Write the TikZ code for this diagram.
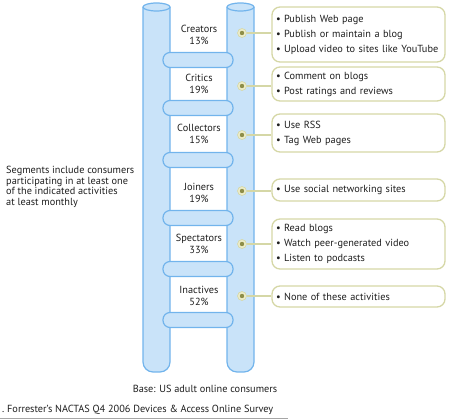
\documentclass[tikz,border=0pt]{standalone}
\usepackage{fontspec}
\setmainfont{PT Sans}
\definecolor{polefill}{HTML}{C9E3F9}
\definecolor{poleline}{HTML}{72B4EC}
\definecolor{boxline}{HTML}{D5D7A6}
\definecolor{dotring}{HTML}{ECECC8}
\definecolor{dotcore}{HTML}{8E8E48}
\definecolor{txt}{HTML}{1E1E1E}
\begin{document}
\begin{tikzpicture}[x=1pt,y=-1pt, text=txt,
  pole/.style={draw=poleline, fill=polefill, line width=1.2pt},
  rung/.style={draw=poleline, fill=polefill, line width=1.2pt, rounded corners=7pt},
  seg/.style={align=center, inner sep=0pt, font=\fontsize{10.3}{12.5}\selectfont},
  actbox/.style={draw=boxline, line width=1.3pt, rounded corners=8pt, text width=165pt,
    inner xsep=4pt, inner ysep=0pt, align=left, minimum width=173pt,
    font=\fontsize{10.3}{15}\selectfont},
  dotout/.style={circle, fill=dotring, draw=boxline, line width=0.6pt, minimum size=9pt, inner sep=0pt},
  link/.style={draw=boxline, line width=1.2pt}]
\useasboundingbox (0,0) rectangle (450,419);
% poles
\filldraw[pole, rounded corners=10pt] (143,7) -- (143,372) -- (170,372) [sharp corners] -- (170,7);
\draw[pole] (156.5,7) ellipse [x radius=13.5pt, y radius=4pt];
\filldraw[pole, rounded corners=10pt] (227,7) -- (227,372) -- (254,372) [sharp corners] -- (254,7);
\draw[pole] (240.5,7) ellipse [x radius=13.5pt, y radius=4pt];
% rungs
\foreach \y in {60,108,160,218,269,320}{
  \draw[rung] (163,\y-7.5) rectangle (233,\y+7.5);
}
% segment labels
\node[seg] (lab1) at (199,35) {Creators\\13\%};
\node[seg] (lab2) at (199,84) {Critics\\19\%};
\node[seg] (lab3) at (199,134) {Collectors\\15\%};
\node[seg] (lab4) at (199,193) {Joiners\\19\%};
\node[seg] (lab5) at (199,244) {Spectators\\33\%};
\node[seg] (lab6) at (199,296) {Inactives\\52\%};
% activity boxes
\node[actbox, minimum height=55pt] (b1) at (358.5,34.5) {\textbullet\ Publish Web page\\\textbullet\ Publish or maintain a blog\\\textbullet\ Upload video to sites like YouTube};
\node[actbox, minimum height=34pt] (b2) at (358.5,84) {\textbullet\ Comment on blogs\\\textbullet\ Post ratings and reviews};
\node[actbox, minimum height=38pt] (b3) at (358.5,133) {\textbullet\ Use RSS\\\textbullet\ Tag Web pages};
\node[actbox, minimum height=22pt] (b4) at (358.5,190) {\textbullet\ Use social networking sites};
\node[actbox, minimum height=50pt] (b5) at (358.5,244) {\textbullet\ Read blogs\\\textbullet\ Watch peer-generated video\\\textbullet\ Listen to podcasts};
\node[actbox, minimum height=21pt] (b6) at (358.5,296.5) {\textbullet\ None of these activities};
% dots and links
\foreach \i/\y in {1/33,2/86,3/135,4/191,5/244,6/296}{
  \node[dotout] (d\i) at (242,\y) {};
  \fill[dotcore] (d\i.center) circle (2.2pt);
  \draw[link] (d\i.east) -- (d\i -| b\i.west);
}
% side note
\node[anchor=north west, align=left, inner sep=0pt, font=\fontsize{10.3}{10.6}\selectfont] (note) at (6,166)
  {Segments include consumers\\participating in at least one\\of the indicated activities\\at least monthly};
% bottom texts
\node[font=\fontsize{10.3}{11}\selectfont] (base) at (205,389) {Base: US adult online consumers};
\node[anchor=west, inner sep=0pt, font=\fontsize{10.3}{11}\selectfont] (src) at (2,410) {.\ Forrester's NACTAS Q4 2006 Devices \& Access Online Survey};
\coordinate (l0) at (0,418);
\coordinate (l1) at (288,418);
\draw[black!35, line width=0.8pt] (l0) -- (l1);
\end{tikzpicture}
\end{document}
